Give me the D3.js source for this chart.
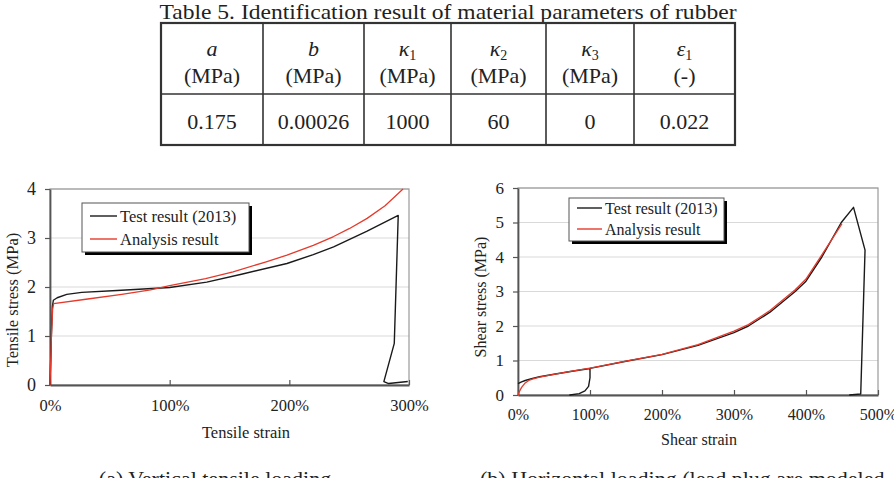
<!DOCTYPE html>
<html>
<head>
<meta charset="utf-8">
<script src="https://cdn.jsdelivr.net/npm/d3@7"></script>
<style>
  body { margin: 0; background: #fff; }
  svg, svg text { font-family: 'Liberation Serif', 'Times New Roman', serif; }
</style>
</head>
<body>
<div id="fig"></div>
<script>
// table contents
var tableTitle = "Table 5. Identification result of material parameters of rubber";
var tableSymbols = [["a", ""], ["b", ""], ["κ", "1"], ["κ", "2"], ["κ", "3"], ["ε", "1"]];
var tableUnits = ["(MPa)", "(MPa)", "(MPa)", "(MPa)", "(MPa)", "(-)"];
var tableValues = ["0.175", "0.00026", "1000", "60", "0", "0.022"];

// (a) tensile: [strain, stress MPa]
var tensileTest = [[0, 0], [0.01, 0.9], [0.02, 1.6], [0.028, 1.73], [0.06, 1.78], [0.14, 1.85], [0.265, 1.89],
  [0.56, 1.93], [1.0, 1.99], [1.31, 2.1], [1.6, 2.26], [1.98, 2.48], [2.2, 2.66], [2.37, 2.82], [2.65, 3.14],
  [2.91, 3.46], [2.877, 0.85], [2.79, 0.07], [2.83, 0.03], [2.99, 0.07]];
var tensileAnalysis = [[0, 0], [0.012, 1.0], [0.022, 1.55], [0.03, 1.66], [0.3, 1.75], [0.6, 1.85], [0.84, 1.94],
  [1.0, 2.03], [1.3, 2.17], [1.53, 2.31], [1.8, 2.51], [1.98, 2.65], [2.2, 2.85], [2.37, 3.03], [2.5, 3.19],
  [2.65, 3.40], [2.8, 3.66], [2.95, 4.0]];
var tensileXTicks = [0, 1, 2, 3];
var tensileYTicks = [0, 1, 2, 3, 4];

// (b) shear: [strain, stress MPa]
var shearTest = [[0, 0.33], [0.05, 0.38], [0.1, 0.42], [0.2, 0.48], [0.3, 0.53], [0.5, 0.6], [0.75, 0.69],
  [1.0, 0.77], [1.0, 0.5], [0.98, 0.25], [0.93, 0.12], [0.85, 0.04], [0.72, 0], [0.85, 0.04], [0.93, 0.12],
  [0.98, 0.25], [1.0, 0.5], [1.0, 0.77], [1.5, 0.98], [2.0, 1.17], [2.5, 1.44], [3.0, 1.81], [3.2, 2.0],
  [3.5, 2.4], [3.85, 3.0], [4.0, 3.3], [4.22, 4.0], [4.49, 5.0], [4.66, 5.44], [4.82, 4.2], [4.76, 0.03],
  [4.6, 0]];
var shearAnalysis = [[0, 0], [0.02, 0.1], [0.05, 0.22], [0.1, 0.35], [0.15, 0.42], [0.2, 0.46], [0.3, 0.52],
  [0.5, 0.6], [0.75, 0.69], [1.0, 0.78], [1.5, 0.98], [2.0, 1.18], [2.5, 1.46], [3.0, 1.85], [3.2, 2.04],
  [3.5, 2.45], [3.85, 3.05], [4.0, 3.36], [4.22, 4.06], [4.5, 4.97]];
var shearXTicks = [0, 1, 2, 3, 4, 5];
var shearYTicks = [0, 1, 2, 3, 4, 5, 6];

var legendLabels = ["Test result (2013)", "Analysis result"];
var captions = ["(a) Vertical tensile loading", "(b) Horizontal loading (lead plug are modeled"];

var serif = "'Liberation Serif', 'Times New Roman', serif";
var width = 894, height = 478;
var svg = d3.select('#fig').append('svg')
    .attr('width', width)
    .attr('height', height);

function txt(sel, x, y, size) {
    return sel.append('text').attr('x', x).attr('y', y)
        .attr('font-family', serif).attr('font-size', size).attr('fill', '#222');
}

// ---------- table ----------
txt(svg, 448, 19, 22)
    .attr('text-anchor', 'middle')
    .attr('textLength', 577).attr('lengthAdjust', 'spacingAndGlyphs')
    .text(tableTitle);

var colEdges = [161, 263, 364, 451, 546, 634, 735];
var rowEdges = [23, 94, 145];
var tbl = svg.append('g').attr('class', 'table');
tbl.append('rect')
    .attr('x', colEdges[0]).attr('y', rowEdges[0])
    .attr('width', colEdges[6] - colEdges[0]).attr('height', rowEdges[2] - rowEdges[0])
    .attr('fill', 'none').attr('stroke', '#333').attr('stroke-width', 2.2);
colEdges.slice(1, 6).forEach(function(x) {
    tbl.append('line').attr('x1', x).attr('x2', x).attr('y1', rowEdges[0]).attr('y2', rowEdges[2])
        .attr('stroke', '#333').attr('stroke-width', 1.6);
});
tbl.append('line').attr('x1', colEdges[0]).attr('x2', colEdges[6]).attr('y1', rowEdges[1]).attr('y2', rowEdges[1])
    .attr('stroke', '#333').attr('stroke-width', 1.6);

tableSymbols.forEach(function(s, i) {
    var cx = (colEdges[i] + colEdges[i + 1]) / 2;
    var t = txt(tbl, cx, 56, 22).attr('text-anchor', 'middle');
    t.append('tspan').attr('font-style', 'italic').text(s[0]);
    if (s[1]) t.append('tspan').attr('dy', 4).attr('font-size', 14).text(s[1]);
    txt(tbl, cx, 83, 22).attr('text-anchor', 'middle').text(tableUnits[i]);
    txt(tbl, cx, 129, 22).attr('text-anchor', 'middle').text(tableValues[i]);
});

// ---------- charts ----------
function drawChart(o) {
    var x = d3.scaleLinear().domain(o.xDomain).range(o.xRange);
    var y = d3.scaleLinear().domain(o.yDomain).range(o.yRange);
    var g = svg.append('g');

    // gridlines
    g.append('g').selectAll('line')
        .data(o.yTicks.slice(1))
        .enter().append('line')
        .attr('x1', o.xRange[0]).attr('x2', o.xRange[1])
        .attr('y1', function(d) { return y(d); }).attr('y2', function(d) { return y(d); })
        .attr('stroke', '#d9d9d9').attr('stroke-width', 1);
    // outer frame
    g.append('rect')
        .attr('x', o.xRange[0]).attr('y', o.yRange[1])
        .attr('width', o.xRange[1] - o.xRange[0]).attr('height', o.yRange[0] - o.yRange[1])
        .attr('fill', 'none').attr('stroke', '#999').attr('stroke-width', 1.2);

    // axes
    var xAxis = d3.axisBottom(x).tickValues(o.xTicks).tickSizeInner(-5).tickSizeOuter(0)
        .tickFormat(function(d) { return (d * 100) + '%'; });
    var gx = g.append('g').attr('transform', 'translate(0,' + o.yRange[0] + ')').call(xAxis)
        .attr('font-family', serif).attr('font-size', o.fontSize);
    gx.select('.domain').attr('stroke', '#555').attr('stroke-width', 1.8);
    gx.selectAll('.tick line').attr('stroke', '#555').attr('stroke-width', 1.2);
    gx.selectAll('.tick text').attr('y', o.xLabelDy).attr('dy', 0).attr('fill', '#222');

    var yAxis = d3.axisLeft(y).tickValues(o.yTicks).tickSizeInner(5).tickSizeOuter(0)
        .tickFormat(d3.format('d'));
    var gy = g.append('g').attr('transform', 'translate(' + o.xRange[0] + ',0)').call(yAxis)
        .attr('font-family', serif).attr('font-size', o.yTickSize);
    gy.select('.domain').attr('stroke', '#555').attr('stroke-width', 1.8);
    gy.selectAll('.tick line').attr('stroke', '#555').attr('stroke-width', 1.2);
    gy.selectAll('.tick text').attr('x', -14).attr('fill', '#222');

    // titles
    txt(g, o.xTitlePos[0], o.xTitlePos[1], o.fontSize)
        .attr('text-anchor', 'middle').text(o.xTitle);
    txt(g, 0, 0, o.fontSize)
        .attr('transform', 'translate(' + o.yTitlePos[0] + ',' + o.yTitlePos[1] + ') rotate(-90)')
        .attr('text-anchor', 'middle').text(o.yTitle);

    // lines
    var line = d3.line().x(function(d) { return x(d[0]); }).y(function(d) { return y(d[1]); });
    g.append('path').datum(o.test)
        .attr('d', line).attr('fill', 'none').attr('stroke', '#1a1a1a').attr('stroke-width', 1.4)
        .attr('stroke-linejoin', 'round');
    g.append('path').datum(o.analysis)
        .attr('d', line).attr('fill', 'none').attr('stroke', '#e53a2b').attr('stroke-width', 1.3)
        .attr('stroke-linejoin', 'round');

    // legend
    var L = o.legend;
    g.append('rect').attr('x', L.x + 3).attr('y', L.y + 3).attr('width', L.w).attr('height', L.h).attr('fill', '#000');
    g.append('rect').attr('x', L.x).attr('y', L.y).attr('width', L.w).attr('height', L.h)
        .attr('fill', '#fff').attr('stroke', '#555').attr('stroke-width', 1);
    var colors = ['#1a1a1a', '#e53a2b'];
    legendLabels.forEach(function(lab, i) {
        var ly = L.rows[i];
        g.append('line').attr('x1', L.lx[0]).attr('x2', L.lx[1]).attr('y1', ly).attr('y2', ly)
            .attr('stroke', colors[i]).attr('stroke-width', 1.4);
        txt(g, L.lx[1] + 3, ly + 6, o.fontSize).text(lab);
    });
}

drawChart({
    xDomain: [0, 3], yDomain: [0, 4],
    xRange: [50, 409], yRange: [385, 189],
    xTicks: tensileXTicks, yTicks: tensileYTicks,
    fontSize: 16.5, yTickSize: 18, xLabelDy: 26,
    xTitle: 'Tensile strain', xTitlePos: [246, 438],
    yTitle: 'Tensile stress (MPa)', yTitlePos: [18, 300],
    test: tensileTest, analysis: tensileAnalysis,
    legend: { x: 82, y: 203, w: 167, h: 49, rows: [216, 239], lx: [90, 117] }
});

drawChart({
    xDomain: [0, 5], yDomain: [0, 6],
    xRange: [518, 878], yRange: [395, 188],
    xTicks: shearXTicks, yTicks: shearYTicks,
    fontSize: 16, yTickSize: 17, xLabelDy: 25,
    xTitle: 'Shear strain', xTitlePos: [699, 445],
    yTitle: 'Shear stress (MPa)', yTitlePos: [486, 297],
    test: shearTest, analysis: shearAnalysis,
    legend: { x: 569, y: 198, w: 155, h: 43, rows: [208, 229], lx: [577, 602] }
});

// captions (cut off at the bottom edge, as in the source figure)
txt(svg, 215, 486, 22).attr('text-anchor', 'middle').text(captions[0]);
txt(svg, 480, 486, 22).text(captions[1]);
</script>
</body>
</html>
